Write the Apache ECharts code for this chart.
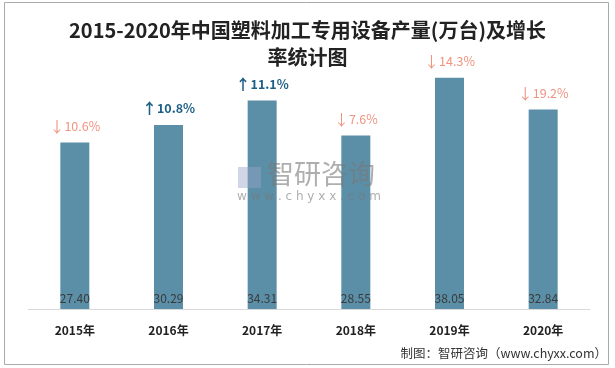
<!DOCTYPE html>
<html><head><meta charset="utf-8">
<script src="https://cdn.jsdelivr.net/npm/echarts@6/dist/echarts.min.js"></script>
<style>html,body{margin:0;padding:0;background:#fff}#c{width:615px;height:368px}</style>
</head><body><div id="c"></div>
<script>
var categories = ['2015年','2016年','2017年','2018年','2019年','2020年'];
var output = [27.40, 30.29, 34.31, 28.55, 38.05, 32.84];
var growth = ['10.6%','10.8%','11.1%','7.6%','14.3%','19.2%'];
var direction = ['down','up','up','down','down','down'];

var chart = echarts.init(document.getElementById('c'));
var cjk = '"Noto Sans CJK SC", sans-serif';
chart.setOption({
  animation: false,
  backgroundColor: '#fff',
  title: {
    text: '2015-2020年中国塑料加工专用设备产量(万台)及增长\n率统计图',
    left: 'center', top: 12,
    textStyle: {fontFamily: cjk, fontSize: 20, fontWeight: 'bold', color: '#222', lineHeight: 27}
  },
  graphic: [
    {type: 'rect', shape: {x: 4.5, y: 2.5, width: 604, height: 362}, style: {fill: 'none', stroke: '#aaa', lineWidth: 1}},
    {type: 'rect', shape: {x: 238, y: 167, width: 23, height: 21}, style: {fill: 'rgba(150,165,200,0.45)'}, z: 10},
    {type: 'text', left: 267, top: 160, style: {text: '智研咨询', font: '27px ' + cjk, fill: 'rgba(120,120,120,0.6)'}, z: 10},
    {type: 'text', left: 237, top: 191, style: {text: 'w w w . c h y x x . c o m', font: '12px "DejaVu Sans"', fill: 'rgba(120,120,120,0.6)'}, z: 10},
    {type: 'text', right: 8, top: 347, style: {text: '制图：智研咨询（www.chyxx.com）', font: '12.5px ' + cjk, fill: '#333'}}
  ],
  grid: {left: 28, right: 25, top: 66, bottom: 59},
  xAxis: {
    type: 'category', data: categories,
    axisLine: {lineStyle: {color: '#d9d9d9'}},
    axisTick: {show: false},
    axisLabel: {color: '#222', fontWeight: 'bold', fontSize: 12, fontFamily: cjk, margin: 15}
  },
  yAxis: {type: 'value', min: 0, max: 40, show: false, splitLine: {show: false}},
  series: [
    {
      type: 'bar', data: output, barWidth: 29,
      itemStyle: {color: '#5b8fa7'},
      label: {
        show: true, position: 'top', distance: 9,
        formatter: function (p) {
          var d = direction[p.dataIndex];
          return d === 'up' ? '{ua|↑}{u|' + growth[p.dataIndex] + '}' : '{da|↓}{d|' + growth[p.dataIndex] + '}';
        },
        rich: {
          ua: {color: '#1c5f86', fontSize: 15, fontWeight: 'bold', fontFamily: cjk},
          u: {color: '#1c5f86', fontSize: 12.5, fontWeight: 'bold', fontFamily: cjk},
          da: {color: '#f0937f', fontSize: 15, fontFamily: cjk},
          d: {color: '#f0937f', fontSize: 12.5, fontFamily: cjk}
        }
      }
    },
    {
      type: 'bar', data: output, barWidth: 29, barGap: '-100%',
      itemStyle: {color: 'rgba(0,0,0,0)'},
      label: {show: true, position: 'insideBottom', distance: 5, color: '#3a3a3a', fontSize: 12, fontFamily: cjk,
        formatter: function (p) { return p.value.toFixed(2); }}
    }
  ]
});
</script></body></html>
